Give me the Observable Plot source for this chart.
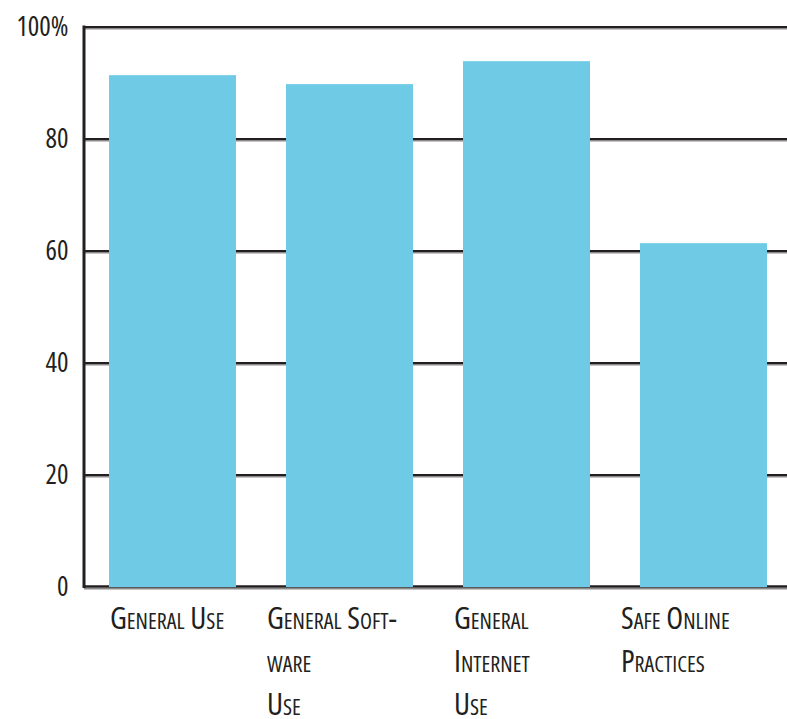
<!DOCTYPE html>
<html>
<head>
<meta charset="utf-8">
<script src="https://cdn.jsdelivr.net/npm/d3@7"></script>
<script src="https://cdn.jsdelivr.net/npm/@observablehq/plot@0.6"></script>
<style>
  html, body { margin: 0; padding: 0; background: #fff; }
  #chart svg { display: block; }
  #chart svg text { font-family: 'Open Sans', sans-serif; font-stretch: condensed; }
</style>
</head>
<body>
<div id="chart"></div>
<script>
// Share of respondents reporting each kind of computer skill
const categories = ["General Use", "General Software Use", "General Internet Use", "Safe Online Practices"];
const labels = ["General Use", "General Soft-\nware\nUse", "General\nInternet\nUse", "Safe Online\nPractices"];
const values = [91.4, 89.8, 93.9, 61.4];
const yTicks = [0, 20, 40, 60, 80, 100];

const data = categories.map((c, i) => ({category: c, label: labels[i], value: values[i]}));

const ink = "#231f20";
const labelShift = [-63, -83, -73, -83];

// left axis line, drawn from the plot frame
const leftAxis = (index, scales, values, dim) => {
  const g = d3.create("svg:g");
  g.append("line")
    .attr("x1", dim.marginLeft).attr("x2", dim.marginLeft)
    .attr("y1", dim.marginTop - 1.5).attr("y2", dim.height - dim.marginBottom + 1)
    .attr("stroke", ink).attr("stroke-width", 3);
  return g.node();
};

const chart = Plot.plot({
  width: 787,
  height: 719,
  marginLeft: 84,
  marginRight: 0,
  marginTop: 27,
  marginBottom: 132,
  style: {fontFamily: "'Open Sans', sans-serif", fontStretch: "condensed", color: ink, background: "#fff"},
  x: {domain: categories, paddingInner: 0.284, paddingOuter: 0.124, align: 0.55, axis: null},
  y: {domain: [0, 100], ticks: yTicks, axis: null},
  marks: [
    // doubled rules: dark line with a gray edge underneath
    Plot.ruleY(yTicks.filter(d => d > 0), {stroke: "#8a8a8a", strokeWidth: 1.6, dy: 1.3}),
    Plot.ruleY(yTicks.filter(d => d > 0), {stroke: ink, strokeWidth: 2.2, dy: -0.5}),
    Plot.ruleY([0], {stroke: "#8a8a8a", strokeWidth: 1.6, dy: 1.2}),
    Plot.ruleY([0], {stroke: ink, strokeWidth: 2.4, dy: -1}),
    Plot.barY(data, {x: "category", y: "value", fill: "#6fcae5"}),
    leftAxis,
    Plot.axisY({
      ticks: yTicks,
      label: null,
      tickSize: 0,
      tickPadding: 16,
      fontSize: 27,
      tickFormat: d => d === 100 ? "100%" : String(d),
      dy: 0
    }),
    ...data.map((d, i) => Plot.text([d], {
      x: "category",
      y: 0,
      text: "label",
      textAnchor: "start",
      lineAnchor: "top",
      lineHeight: 1.39,
      fontSize: 31,
      fontVariant: "small-caps",
      fill: ink,
      dx: labelShift[i],
      dy: 11
    }))
  ]
});

document.getElementById("chart").append(chart);
</script>
</body>
</html>
